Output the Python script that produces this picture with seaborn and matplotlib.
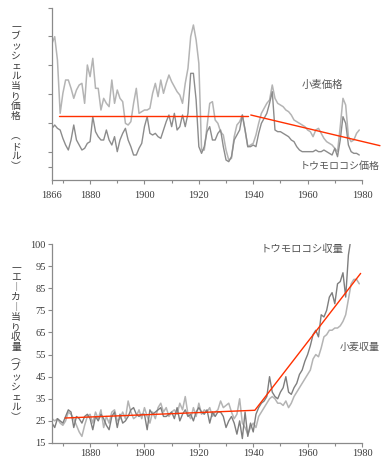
import numpy as np
import pandas as pd
import matplotlib
matplotlib.use("Agg")
import matplotlib.pyplot as plt
from matplotlib.ticker import FixedLocator, MultipleLocator
import seaborn as sns

sns.set_theme(style="white")
plt.rcParams['font.family'] = ['Noto Sans CJK JP', 'DejaVu Sans']

# ---------------- data ----------------
price_years = list(range(1866, 1980))
wheat_price = [
    4.1, 4.3, 3.6, 2.0, 2.6, 3.0, 3.0, 2.75, 2.45, 2.7,
    2.85, 2.9, 2.3, 3.45, 3.1, 3.65, 2.75, 2.75, 2.1, 2.45,
    2.3, 2.2, 3.0, 2.3, 2.7, 2.45, 2.35, 1.7, 1.65, 1.75,
    2.3, 2.75, 2.0, 2.05, 2.1, 2.1, 2.15, 2.6, 2.9, 2.5,
    3.0, 2.6, 2.9, 3.15, 2.95, 2.8, 2.65, 2.55, 2.3, 2.9,
    3.35, 4.3, 4.65, 4.2, 3.5, 0.9, 0.9, 1.6, 2.3, 2.35,
    1.8, 1.7, 1.45, 1.35, 0.9, 0.6, 0.65, 1.3, 1.65, 1.75,
    1.95, 1.5, 1.0, 1.05, 1.1, 1.35, 1.7, 2.0, 2.15, 2.3,
    2.4, 2.85, 2.45, 2.3, 2.25, 2.2, 2.1, 2.05, 1.95, 1.8,
    1.75, 1.7, 1.65, 1.6, 1.5, 1.45, 1.3, 1.5, 1.55, 1.4,
    1.25, 1.15, 1.1, 1.05, 0.95, 0.85, 1.6, 2.45, 2.25, 1.3,
    1.15, 1.2, 1.4, 1.5,
]
corn_price = [
    1.55, 1.65, 1.55, 1.5, 1.25, 1.05, 0.9, 1.2, 1.65, 1.2,
    1.05, 0.9, 0.95, 1.1, 1.15, 1.9, 1.45, 1.3, 1.2, 1.2,
    1.5, 1.2, 1.05, 1.3, 0.85, 1.2, 1.4, 1.55, 1.2, 1.0,
    0.75, 0.75, 0.95, 1.1, 1.6, 1.9, 1.4, 1.35, 1.4, 1.3,
    1.25, 1.5, 1.75, 1.95, 1.6, 2.0, 1.5, 1.6, 1.95, 1.6,
    2.0, 3.2, 3.2, 2.4, 1.0, 0.8, 1.0, 1.45, 1.6, 1.2,
    1.2, 1.4, 1.5, 1.0, 0.6, 0.55, 0.7, 1.2, 1.35, 1.5,
    1.95, 1.5, 1.0, 1.0, 1.05, 1.0, 1.4, 1.7, 1.85, 2.0,
    2.3, 2.65, 1.5, 1.45, 1.45, 1.4, 1.35, 1.3, 1.2, 1.15,
    1.0, 0.9, 0.85, 0.85, 0.85, 0.85, 0.85, 0.9, 0.85, 0.85,
    0.9, 0.85, 0.8, 0.75, 0.95, 0.7, 1.2, 1.9, 1.7, 1.05,
    0.85, 0.8, 0.8, 0.75,
]
price_trend_years_1 = [1868.7, 1938.2]
price_trend_vals_1 = [1.93, 1.93]
price_trend_years_2 = [1939.1, 1986.6]
price_trend_vals_2 = [1.95, 1.03]

corn_yield_years = list(range(1866, 1977))
corn_yield = [
    24, 22, 26, 25, 24, 27, 30, 29, 22, 27,
    26, 24, 27, 28, 26, 21, 27, 25, 28, 26,
    23, 21, 27, 29, 22, 28, 24, 25, 27, 30,
    31, 28, 27, 28, 28, 21, 30, 28, 29, 30,
    31, 27, 27, 28, 29, 26, 31, 25, 28, 30,
    27, 28, 25, 29, 31, 29, 28, 30, 24, 29,
    27, 29, 29, 27, 22, 25, 27, 24, 19, 25,
    17, 29, 18, 24, 20, 28, 31, 33, 34, 36,
    45, 38, 36, 35, 38, 40, 45, 38, 37, 40,
    42, 46, 48, 52, 55, 59, 64, 66, 63, 73,
    72, 75, 81, 83, 78, 87, 88, 92, 81, 100,
    108,
]
wheat_yield_years = list(range(1866, 1980))
wheat_yield = [
    26, 25, 26, 24, 23, 25, 29, 28, 26, 23,
    20, 18, 23, 27, 28, 24, 29, 26, 30, 22,
    27, 24, 29, 30, 25, 26, 29, 26, 34, 29,
    26, 27, 30, 26, 31, 27, 24, 29, 26, 31,
    33, 29, 31, 27, 29, 30, 28, 33, 30, 36,
    28, 26, 31, 27, 33, 28, 30, 29, 31, 27,
    29, 30, 34, 31, 32, 33, 29, 26, 28, 35,
    24, 22, 19, 22, 24, 22, 27, 29, 31, 33,
    35, 36, 35, 33, 33, 32, 34, 31, 33, 36,
    38, 40, 42, 44, 46, 48, 53, 55, 54, 58,
    63, 64, 66, 66, 67, 67, 68, 70, 73, 80,
    87, 89, 89, 87,
]
yield_trend_years = [1870.8, 1940.6, 1979.5]
yield_trend_vals = [26.3, 29.8, 91.7]

yield_tick_vals = [15, 25, 35, 45, 55, 65, 75, 85, 95, 105]
yield_tick_labels = ['15', '25', '35', '45', '55', '65', '75', '85', '95', '100']
price_xtick_vals = [1866, 1880, 1900, 1920, 1940, 1960, 1980]
price_xtick_labels = ['1866', '1880', '1900', '1920', '1940', '1960', '1980']
yield_xtick_vals = [1880, 1900, 1920, 1940, 1960, 1980]

price_df = pd.DataFrame({'year': price_years, 'wheat': wheat_price, 'corn': corn_price})
cy_df = pd.DataFrame({'year': corn_yield_years, 'val': corn_yield})
wy_df = pd.DataFrame({'year': wheat_yield_years, 'val': wheat_yield})

# ---------------- figure ----------------
W, H = 382, 462
fig = plt.figure(figsize=(W / 100, H / 100), dpi=100)
fig.patch.set_facecolor('white')

def px_axes(l, t, r, b):
    return fig.add_axes([l / W, 1 - b / H, (r - l) / W, (b - t) / H])

ax1 = px_axes(52, 8, 362, 180)
ax2 = px_axes(52, 244, 362, 443)

LIGHT = '#b4b4b4'
DARK = '#8c8c8c'
RED = '#ff3000'
SPINE = '#8a8a8a'
TXT = '#3a3a3a'
serif = 'Liberation Serif'

sns.lineplot(data=price_df, x='year', y='wheat', ax=ax1, color=LIGHT, lw=1.1)
sns.lineplot(data=price_df, x='year', y='corn', ax=ax1, color=DARK, lw=1.0)
ax1.plot(price_trend_years_1, price_trend_vals_1, color=RED, lw=1.0, clip_on=False)
ax1.plot(price_trend_years_2, price_trend_vals_2, color=RED, lw=1.0, clip_on=False)

sns.lineplot(data=wy_df, x='year', y='val', ax=ax2, color=LIGHT, lw=1.1)
sns.lineplot(data=cy_df, x='year', y='val', ax=ax2, color='#7e7e7e', lw=1.0)
ax2.plot(yield_trend_years, yield_trend_vals, color=RED, lw=1.0, clip_on=False)

for ax in (ax1, ax2):
    ax.set_facecolor('white')
    ax.set_xlim(1866, 1980)
    ax.set_xlabel('')
    ax.set_ylabel('')
    for s in ('top', 'right'):
        ax.spines[s].set_visible(False)
    for s in ('left', 'bottom'):
        ax.spines[s].set_color(SPINE)
        ax.spines[s].set_linewidth(0.9)
    ax.tick_params(which='both', direction='out', color=SPINE, width=0.8,
                   labelcolor=TXT, left=True, bottom=True)
    ax.tick_params(which='major', length=3)
    ax.tick_params(which='minor', length=2.5)
    ax.xaxis.set_minor_locator(MultipleLocator(10))

ax1.set_ylim(0, 5.16)
ax1.set_xticks(price_xtick_vals)
ax1.set_xticklabels(price_xtick_labels, fontfamily=serif, fontsize=7.5)
ax1.yaxis.set_major_locator(FixedLocator([0.4, 0.85, 1.7, 2.58, 3.45, 4.32, 5.16]))
ax1.set_yticklabels([])
ax1.tick_params(axis='x', pad=5)

ax2.set_ylim(15, 105)
ax2.set_yticks(yield_tick_vals)
ax2.set_yticklabels(yield_tick_labels, fontfamily=serif, fontsize=7.5)
ax2.set_xticks(yield_xtick_vals)
ax2.set_xticklabels([str(v) for v in yield_xtick_vals], fontfamily=serif, fontsize=7.5)
ax2.tick_params(axis='x', pad=1.5)
ax2.tick_params(axis='y', pad=1.5)

# vertical axis titles
top_label = ['一', 'ブ', 'ッ', 'シ', 'ェ', 'ル', '当', 'り', '価', '格', '\u3000', '︵', 'ド', 'ル', '︶']
bot_label = ['一', 'エ', '︱', 'カ', '︱', '当', 'り', '収', '量', '︵', 'ブ', 'ッ', 'シ', 'ェ', 'ル', '︶']
fig.text(16 / W, 1 - 96 / H, '\n'.join(top_label), ha='center', va='center',
         fontsize=7, linespacing=1.0, color=TXT)
fig.text(16 / W, 1 - 342 / H, '\n'.join(bot_label), ha='center', va='center',
         fontsize=7, linespacing=1.0, color=TXT)

# series labels
fig.text(322 / W, 1 - 85 / H, '小麦価格', ha='center', va='center', fontsize=7.5, color='#555555')
fig.text(380 / W, 1 - 166 / H, 'トウモロコシ価格', ha='right', va='center', fontsize=7.2, color='#555555')
fig.text(261 / W, 1 - 249 / H, 'トウモロコシ収量', ha='left', va='center', fontsize=7.5, color='#555555')
fig.text(380 / W, 1 - 347 / H, '小麦収量', ha='right', va='center', fontsize=7.2, color='#555555')

fig.savefig('out.png', dpi=100, facecolor='white')
